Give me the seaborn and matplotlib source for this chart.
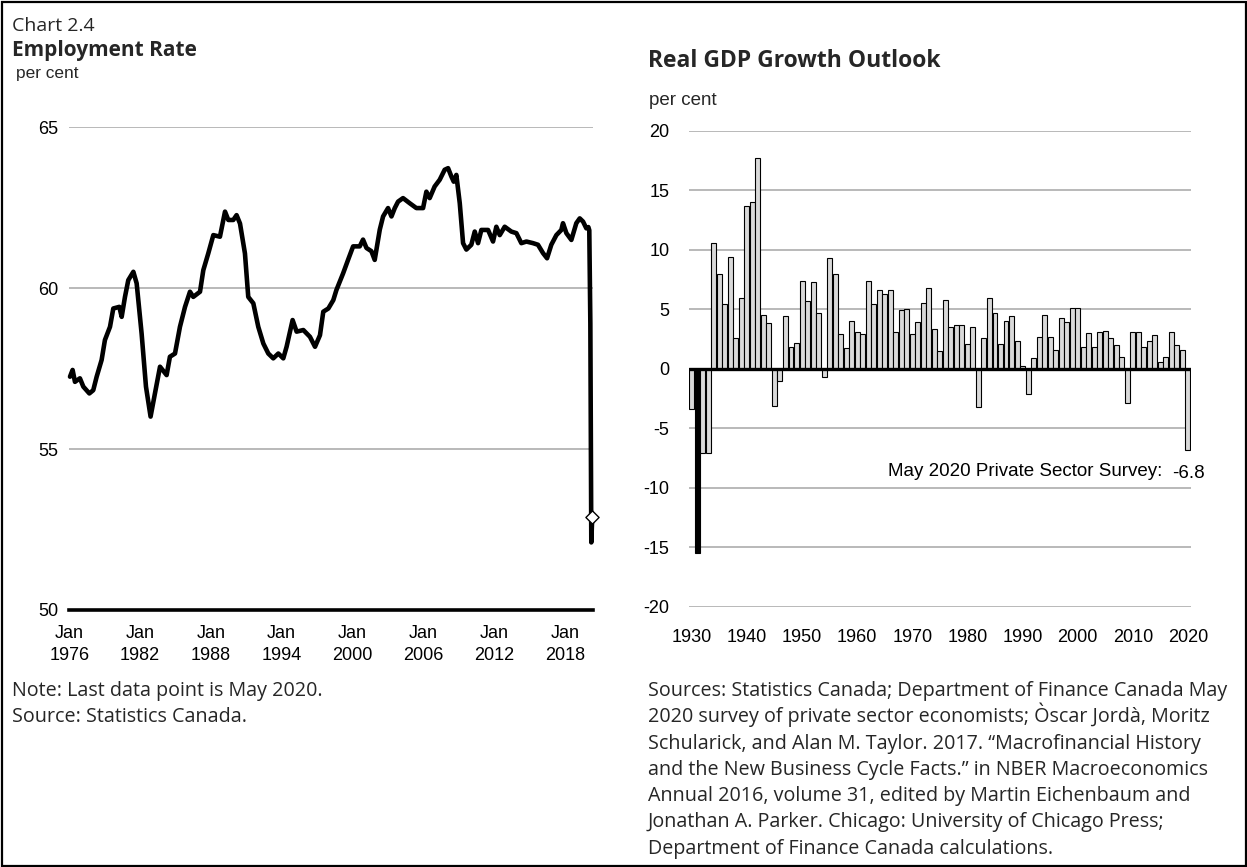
import numpy as np
import pandas as pd
import matplotlib
matplotlib.use("Agg")
import matplotlib.pyplot as plt
import seaborn as sns
from matplotlib.patches import Rectangle

# ---------------- data ----------------
# Employment rate (per cent) (decimal year, value)
emp_dates = [1976.06, 1976.28, 1976.48, 1976.90, 1977.19, 1977.70, 1978.03, 1978.32, 1978.74,
             1979.02, 1979.45, 1979.73, 1980.24, 1980.44, 1980.72, 1981.00, 1981.43, 1981.71,
             1982.13, 1982.50, 1982.89, 1983.26, 1983.69, 1984.25, 1984.53, 1984.96, 1985.38,
             1985.81, 1986.23, 1986.51, 1987.08, 1987.36, 1987.78, 1988.21, 1988.77, 1989.20,
             1989.48, 1989.90, 1990.18, 1990.47, 1990.89, 1991.17, 1991.60, 1992.02, 1992.45,
             1992.87, 1993.29, 1993.72, 1994.14, 1994.42, 1994.93, 1995.27, 1995.84, 1996.40,
             1996.83, 1997.25, 1997.53, 1997.96, 1998.38, 1998.64, 1999.21, 1999.63, 2000.06,
             2000.62, 2000.90, 2001.19, 2001.61, 2001.89, 2002.32, 2002.60, 2003.02, 2003.31,
             2003.59, 2003.87, 2004.29, 2004.86, 2005.42, 2005.99, 2006.27, 2006.55, 2006.97,
             2007.40, 2007.82, 2008.11, 2008.39, 2008.59, 2008.81, 2009.10, 2009.38, 2009.66,
             2010.08, 2010.37, 2010.65, 2010.93, 2011.50, 2011.92, 2012.20, 2012.49, 2012.91,
             2013.47, 2013.90, 2014.32, 2014.75, 2015.31, 2015.73, 2016.16, 2016.50, 2016.86,
             2017.29, 2017.71, 2017.85, 2018.14, 2018.56, 2018.98, 2019.27, 2019.55, 2019.83,
             2020.00, 2020.08, 2020.17, 2020.25, 2020.33]
emp_values = [57.25, 57.46, 57.09, 57.20, 56.94, 56.73, 56.83, 57.25, 57.77,
              58.39, 58.80, 59.37, 59.42, 59.11, 59.73, 60.25, 60.51, 60.15,
              58.59, 56.94, 56.01, 56.73, 57.56, 57.30, 57.87, 57.97, 58.80,
              59.42, 59.89, 59.73, 59.89, 60.56, 61.08, 61.65, 61.60, 62.38,
              62.12, 62.12, 62.27, 62.01, 61.08, 59.73, 59.53, 58.80, 58.28,
              57.97, 57.82, 57.97, 57.82, 58.18, 59.01, 58.65, 58.70, 58.49,
              58.18, 58.54, 59.27, 59.37, 59.63, 59.94, 60.46, 60.88, 61.30,
              61.30, 61.51, 61.25, 61.15, 60.88, 61.82, 62.23, 62.49, 62.23,
              62.49, 62.69, 62.80, 62.64, 62.49, 62.49, 63.00, 62.80, 63.16,
              63.37, 63.68, 63.73, 63.47, 63.31, 63.52, 62.64, 61.40, 61.20,
              61.35, 61.76, 61.40, 61.81, 61.81, 61.45, 61.91, 61.65, 61.91,
              61.76, 61.71, 61.40, 61.45, 61.40, 61.35, 61.09, 60.93, 61.35,
              61.65, 61.81, 62.02, 61.71, 61.50, 62.02, 62.17, 62.07, 61.86,
              61.90, 61.80, 58.90, 52.10, 52.90]
emp_last_date = 2020.33
emp_last_value = 52.90
left_xtick_years = [1976, 1982, 1988, 1994, 2000, 2006, 2012, 2018]
left_xtick_labels = ["Jan\n1976", "Jan\n1982", "Jan\n1988", "Jan\n1994",
                     "Jan\n2000", "Jan\n2006", "Jan\n2012", "Jan\n2018"]
left_yticks = [50, 55, 60, 65]

# Real GDP growth (per cent), 1930-2020
gdp_years = list(range(1930, 2021))
gdp_growth = [-3.4, -15.5, -7.1, -7.1, 10.6, 8.0, 5.4, 9.4, 2.6, 5.9,
              13.7, 14.0, 17.7, 4.5, 3.8, -3.1, -1.0, 4.4, 1.8, 2.2,
              7.4, 5.7, 7.3, 4.7, -0.7, 9.3, 8.0, 2.9, 1.7, 4.0,
              3.1, 2.9, 7.4, 5.4, 6.6, 6.3, 6.6, 3.1, 4.9, 5.0,
              2.9, 3.9, 5.5, 6.8, 3.3, 1.5, 5.8, 3.5, 3.7, 3.7,
              2.1, 3.5, -3.2, 2.6, 5.9, 4.7, 2.1, 4.0, 4.4, 2.3,
              0.2, -2.1, 0.9, 2.7, 4.5, 2.7, 1.6, 4.3, 3.9, 5.1,
              5.1, 1.8, 3.0, 1.8, 3.1, 3.2, 2.6, 2.0, 1.0, -2.9,
              3.1, 3.1, 1.8, 2.3, 2.8, 0.6, 1.0, 3.1, 2.0, 1.6,
              -6.8]
highlight_year = 1931
right_yticks = [-20, -15, -10, -5, 0, 5, 10, 15, 20]
right_xtick_years = [1930, 1940, 1950, 1960, 1970, 1980, 1990, 2000, 2010, 2020]
survey_label = "May 2020 Private Sector Survey:"
survey_value = "-6.8"

# ---------------- figure ----------------
sns.set_theme(style="white")
plt.rcParams['font.family'] = ['Liberation Sans', 'DejaVu Sans']

W, H = 1247, 867
fig = plt.figure(figsize=(W / 100, H / 100), dpi=100)
fig.patch.set_facecolor("white")


def fx(px):
    return px / W


def fy(py):
    return 1 - py / H


GRID = "#a6a6a6"
TICK_FS = 13
UI_FONT = ['Open Sans', 'DejaVu Sans']

# ---------- left: employment rate ----------
axL = fig.add_axes([fx(69.3), fy(610), fx(593.3) - fx(69.3), fy(127.3) - fy(610)])
df_emp = pd.DataFrame({"date": emp_dates, "rate": emp_values})
sns.lineplot(data=df_emp, x="date", y="rate", ax=axL, color="black", linewidth=3.3,
             estimator=None, sort=False, zorder=3)
for ln in axL.lines:
    ln.set_clip_on(False)
    ln.set_solid_joinstyle("round")
df_last = pd.DataFrame({"date": [emp_last_date], "rate": [emp_last_value]})
sns.scatterplot(data=df_last, x="date", y="rate", ax=axL, marker="D", s=45,
                facecolor="white", edgecolor="black", linewidth=1.0, zorder=4, clip_on=False)
axL.set_xlim(1976.0, 2020.42)
axL.set_ylim(50, 65)
axL.set_yticks(left_yticks)
axL.set_yticklabels([str(v) for v in left_yticks], fontsize=TICK_FS)
axL.set_xticks(left_xtick_years)
axL.set_xticklabels(left_xtick_labels, fontsize=TICK_FS, linespacing=1.35)
axL.grid(axis="y", color=GRID, linewidth=1.1)
axL.grid(axis="x", visible=False)
axL.set_axisbelow(True)
for s in ["left", "right", "top"]:
    axL.spines[s].set_visible(False)
axL.spines["bottom"].set_color("black")
axL.spines["bottom"].set_linewidth(2.6)
axL.spines["bottom"].set_zorder(5)
axL.tick_params(axis="x", direction="out", length=4, width=2.4, color="black", pad=7, labelcolor="black")
axL.tick_params(axis="y", length=0, pad=8, labelcolor="black")
axL.set_xlabel("")
axL.set_ylabel("")

# ---------- right: real GDP growth ----------
axR = fig.add_axes([fx(689), fy(606.7), fx(1190.7) - fx(689), fy(130.7) - fy(606.7)])
df_gdp = pd.DataFrame({"year": [str(y) for y in gdp_years], "growth": gdp_growth})
palette = {str(y): ("black" if y == highlight_year else "#d9d9d9") for y in gdp_years}
sns.barplot(data=df_gdp, x="year", y="growth", hue="year", palette=palette, legend=False,
            dodge=False, width=0.9, edgecolor="black", linewidth=0.8, saturation=1,
            ax=axR, zorder=2)
axR.set_xlim(-0.5, len(gdp_years) - 0.5)
axR.set_ylim(-20, 20)
axR.set_yticks(right_yticks)
axR.set_yticklabels([str(v) for v in right_yticks], fontsize=TICK_FS)
tick_idx = [gdp_years.index(y) for y in right_xtick_years]
axR.set_xticks(tick_idx)
axR.set_xticklabels([str(y) for y in right_xtick_years], fontsize=TICK_FS)
axR.grid(axis="y", color=GRID, linewidth=1.1)
axR.grid(axis="x", visible=False)
axR.set_axisbelow(True)
axR.axhline(0, color="black", linewidth=2.4, zorder=4)
for s in ["left", "right", "top", "bottom"]:
    axR.spines[s].set_visible(False)
axR.tick_params(axis="both", length=0, labelcolor="black")
axR.tick_params(axis="y", pad=14)
axR.tick_params(axis="x", pad=16)
axR.set_xlabel("")
axR.set_ylabel("")
axR.text(85.4, -8.66, survey_label, ha="right", va="center", fontsize=13.5, color="black")
axR.text(87.1, -8.79, survey_value, ha="left", va="center", fontsize=13.5, color="black")

# ---------- titles and notes ----------
fig.text(fx(12), fy(31), "Chart 2.4", family=UI_FONT, fontsize=14, va="baseline", ha="left")
fig.text(fx(12), fy(56), "Employment Rate", family=UI_FONT, fontsize=15, fontweight="bold",
         va="baseline", ha="left")
fig.text(fx(16), fy(78), "per cent", fontsize=12.4, va="baseline", ha="left")
fig.text(fx(648), fy(67), "Real GDP Growth Outlook", family=UI_FONT, fontsize=16.5,
         fontweight="bold", va="baseline", ha="left")
fig.text(fx(649), fy(105), "per cent", fontsize=13.5, va="baseline", ha="left")

left_notes = ["Note: Last data point is May 2020.", "Source: Statistics Canada."]
right_notes = ["Sources: Statistics Canada; Department of Finance Canada May",
               "2020 survey of private sector economists; \u00d2scar Jord\u00e0, Moritz",
               "Schularick, and Alan M. Taylor. 2017. \u201cMacrofinancial History",
               "and the New Business Cycle Facts.\u201d in NBER Macroeconomics",
               "Annual 2016, volume 31, edited by Martin Eichenbaum and",
               "Jonathan A. Parker. Chicago: University of Chicago Press;",
               "Department of Finance Canada calculations."]
line_h = 26.3
base0 = 696
for i, t in enumerate(left_notes):
    fig.text(fx(12), fy(base0 + i * line_h), t, family=UI_FONT, fontsize=14.2,
             va="baseline", ha="left")
for i, t in enumerate(right_notes):
    fig.text(fx(648), fy(base0 + i * line_h), t, family=UI_FONT, fontsize=14.2,
             va="baseline", ha="left")

# frame
fig.add_artist(Rectangle((fx(1.5), fy(865.5)), fx(1244), fy(1.5) - fy(865.5),
                         transform=fig.transFigure, fill=False, edgecolor="black", linewidth=1.6))

fig.savefig("out.png", dpi=100, facecolor="white")
